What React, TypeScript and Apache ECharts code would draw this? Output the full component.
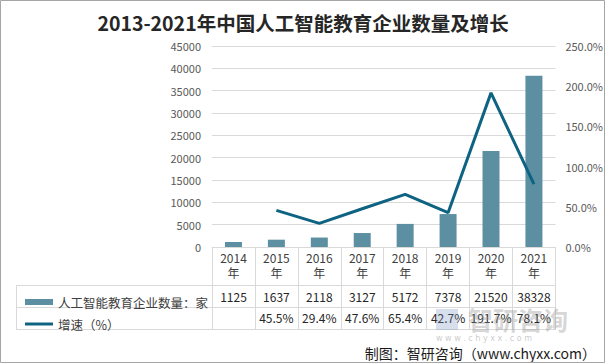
import React, { useEffect, useRef } from "react";
import * as echarts from "echarts";

const years = ["2014", "2015", "2016", "2017", "2018", "2019", "2020", "2021"];
const companyCounts = [1125, 1637, 2118, 3127, 5172, 7378, 21520, 38328];
const growthRates: (number | null)[] = [null, 45.5, 29.4, 47.6, 65.4, 42.7, 191.7, 78.1];
const barName = "人工智能教育企业数量：家";
const lineName = "增速（%）";
const titleText = "2013-2021年中国人工智能教育企业数量及增长";
const sourceText = "制图：智研咨询（www.chyxx.com）";

const BAR_COLOR = "#5d8fa3";
const LINE_COLOR = "#0f6382";
const GRID_LINE = "#d9d9d9";
const FONT = "'Noto Sans CJK SC', 'Noto Sans', sans-serif";

export default function App() {
  const ref = useRef<HTMLDivElement>(null);
  useEffect(() => {
    if (!ref.current) return;
    const chart = echarts.init(ref.current, null, { renderer: "svg" });
    const gridLeft = 212;
    const gridRight = 556;
    const axisY = 247;
    const tableLeft = 16;
    const rowLines = [285, 307, 329];

    const tableGraphics: any[] = rowLines.map((y) => ({
      type: "line",
      shape: { x1: tableLeft, y1: y + 0.5, x2: gridRight, y2: y + 0.5 },
      style: { stroke: GRID_LINE, lineWidth: 1 },
      silent: true,
    }));
    tableGraphics.push({
      type: "line",
      shape: { x1: tableLeft + 0.5, y1: rowLines[0], x2: tableLeft + 0.5, y2: rowLines[2] },
      style: { stroke: GRID_LINE, lineWidth: 1 },
      silent: true,
    });

    chart.setOption({
      animation: false,
      backgroundColor: "#ffffff",
      textStyle: { fontFamily: FONT },
      title: {
        text: titleText,
        left: "center",
        top: 8,
        textStyle: { fontFamily: FONT, fontSize: 19.5, fontWeight: "bold", color: "#262626" },
      },
      legend: {
        orient: "vertical",
        left: 20,
        top: 290,
        itemWidth: 28,
        itemHeight: 6,
        itemGap: 8,
        textStyle: { fontFamily: FONT, fontSize: 12.5, color: "#404040", lineHeight: 14 },
        data: [
          { name: barName, icon: "rect" },
          { name: lineName, icon: "path://M0,0 H30 V3.2 H0 Z" },
        ],
      },
      grid: { left: gridLeft, right: 606 - gridRight, top: 46, bottom: 364 - axisY },
      xAxis: [
        {
          type: "category",
          data: years.map((y) => y + "\n年"),
          axisLine: { lineStyle: { color: GRID_LINE } },
          axisTick: { show: true, interval: 0, length: rowLines[2] - axisY, lineStyle: { color: GRID_LINE } },
          axisLabel: { interval: 0, margin: 3, fontSize: 12, lineHeight: 15, color: "#404040", fontFamily: FONT },
        },
        {
          type: "category",
          position: "bottom",
          offset: 43,
          data: companyCounts.map((v) => String(v)),
          axisLine: { show: false },
          axisTick: { show: false },
          axisLabel: { interval: 0, margin: 0, fontSize: 12, color: "#262626", fontFamily: FONT },
        },
        {
          type: "category",
          position: "bottom",
          offset: 64.5,
          data: growthRates.map((v) => (v == null ? "" : v.toFixed(1) + "%")),
          axisLine: { show: false },
          axisTick: { show: false },
          axisLabel: { interval: 0, margin: 0, fontSize: 12, color: "#262626", fontFamily: FONT },
        },
      ],
      yAxis: [
        {
          type: "value",
          min: 0,
          max: 45000,
          interval: 5000,
          axisLine: { show: false },
          axisTick: { show: false },
          splitLine: { lineStyle: { color: GRID_LINE } },
          axisLabel: { margin: 11, fontSize: 11, color: "#595959", fontFamily: FONT, formatter: (v: number) => String(v) },
        },
        {
          type: "value",
          min: 0,
          max: 250,
          interval: 50,
          axisLine: { show: false },
          axisTick: { show: false },
          splitLine: { show: false },
          axisLabel: { margin: 10, fontSize: 11, color: "#595959", fontFamily: FONT, formatter: (v: number) => v.toFixed(1) + "%" },
        },
      ],
      series: [
        {
          name: barName,
          type: "bar",
          data: companyCounts,
          barWidth: 17,
          itemStyle: { color: BAR_COLOR },
        },
        {
          name: lineName,
          type: "line",
          yAxisIndex: 1,
          data: growthRates.map((v) => (v == null ? "-" : v)),
          showSymbol: false,
          symbol: "none",
          lineStyle: { color: LINE_COLOR, width: 3 },
          itemStyle: { color: LINE_COLOR },
        },
      ],
      graphic: [
        ...tableGraphics,
        {
          type: "rect",
          shape: { x: 0.5, y: 0.5, width: 604, height: 362 },
          style: { fill: "none", stroke: "#a6a6a6", lineWidth: 1 },
          silent: true,
          z: 100,
        },
        {
          type: "rect",
          shape: { x: 436, y: 309, width: 22, height: 21 },
          style: { fill: "rgba(120,150,190,0.3)" },
          silent: true,
          z: 50,
        },
        {
          type: "text",
          x: 468,
          y: 306,
          style: { text: "智研咨询", font: "bold 25px 'Noto Sans CJK SC'", fill: "rgba(150,150,150,0.4)" },
          silent: true,
          z: 50,
        },
        {
          type: "text",
          x: 436,
          y: 334,
          style: { text: "w w w . c h y x x . c o m", font: "8px 'DejaVu Sans'", fill: "rgba(150,150,150,0.5)" },
          silent: true,
          z: 50,
        },
        {
          type: "text",
          right: 10,
          top: 346,
          style: { text: sourceText, font: "14px 'Noto Sans CJK SC'", fill: "#1a1a1a" },
          z: 60,
        },
      ],
    });
    return () => chart.dispose();
  }, []);
  return <div ref={ref} style={{ width: 606, height: 364, position: "absolute", left: 0, top: 0 }} />;
}
